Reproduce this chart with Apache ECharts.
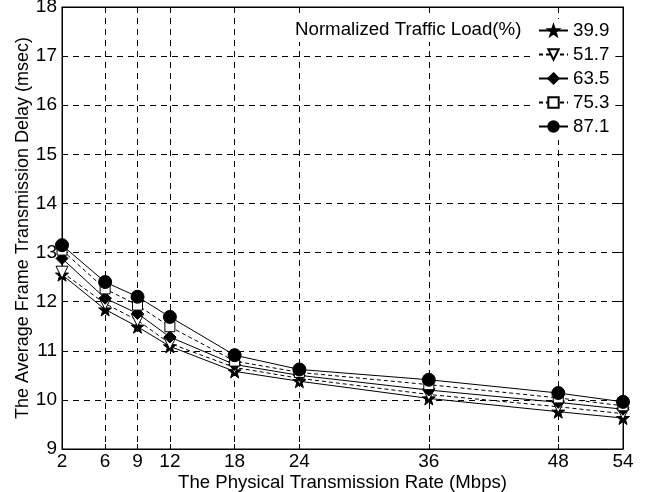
<!DOCTYPE html>
<html>
<head>
<meta charset="utf-8">
<script src="https://cdn.jsdelivr.net/npm/echarts@6/dist/echarts.min.js"></script>
<style>html,body{margin:0;padding:0;background:#fff;}#c{width:647px;height:492px;}</style>
</head>
<body>
<div id="c"></div>
<script>
const rates = [2, 6, 9, 12, 18, 24, 36, 48, 54];
const loadNames = ['39.9', '51.7', '63.5', '75.3', '87.1'];
const d39 = [12.55, 11.84, 11.49, 11.09, 10.58, 10.38, 10.03, 9.76, 9.63];
const d51 = [12.60, 11.96, 11.62, 11.15, 10.66, 10.44, 10.11, 9.86, 9.72];
const d63 = [12.88, 12.07, 11.76, 11.28, 10.72, 10.50, 10.20, 9.95, 9.81];
const d75 = [13.05, 12.26, 11.93, 11.49, 10.79, 10.56, 10.31, 10.04, 9.88];
const d87 = [13.15, 12.40, 12.10, 11.69, 10.91, 10.62, 10.41, 10.14, 9.96];

const STAR = 'path://M0,-10 L2.35,-3.24 L9.51,-3.09 L3.8,1.24 L5.88,8.09 L0,4 L-5.88,8.09 L-3.8,1.24 L-9.51,-3.09 L-2.35,-3.24 Z';
const FONT = '"Liberation Sans", Arial, sans-serif';

function pairs(arr) { return rates.map((x, i) => [x, arr[i]]); }

const styles = [
  { data: d39, symbol: STAR, size: 13, fill: '#000', dash: 'solid', rot: 0 },
  { data: d51, symbol: 'triangle', size: 12, fill: '#fff', dash: [4, 3], rot: 180 },
  { data: d63, symbol: 'diamond', size: 12, fill: '#000', dash: 'solid', rot: 0 },
  { data: d75, symbol: 'rect', size: 10, fill: '#fff', dash: [4, 3], rot: 0 },
  { data: d87, symbol: 'circle', size: 13, fill: '#000', dash: 'solid', rot: 0 }
];

const series = styles.map((s, i) => ({
  name: loadNames[i],
  type: 'line',
  data: pairs(s.data),
  symbol: s.symbol,
  symbolSize: s.size,
  symbolRotate: s.rot,
  showAllSymbol: true,
  lineStyle: { color: '#000', width: 1, type: s.dash },
  itemStyle: { color: s.fill, borderColor: '#000', borderWidth: 1 },
  emphasis: { disabled: true },
  animation: false,
  z: 3 + i
}));

const grid = { left: 62, right: 24, top: 7, bottom: 43, containLabel: false, outerBoundsMode: 'none', show: true, borderColor: '#000', borderWidth: 1, backgroundColor: 'transparent' };
const dashLine = { show: true, lineStyle: { color: '#000', width: 1, type: [6, 5] } };

const chart = echarts.init(document.getElementById('c'), null, { renderer: 'canvas' });
chart.setOption({
  animation: false,
  backgroundColor: '#fff',
  textStyle: { fontFamily: FONT },
  grid: grid,
  title: {
    text: 'Normalized Traffic Load(%)',
    left: 292, top: 18,
    padding: [2, 3, 2, 3],
    backgroundColor: '#fff',
    textStyle: { fontFamily: FONT, fontSize: 18.7, lineHeight: 20, fontWeight: 'normal', color: '#000' }
  },
  legend: {
    orient: 'vertical',
    left: 531, top: 19,
    padding: [2, 6, 4, 7],
    itemWidth: 29, itemHeight: 13, itemGap: 5,
    backgroundColor: '#fff',
    textStyle: { fontFamily: FONT, fontSize: 18.7, lineHeight: 19, color: '#000' },
    data: loadNames
  },
  xAxis: [
    {
      type: 'value', min: 2, max: 54, position: 'bottom',
      name: 'The Physical Transmission Rate (Mbps)', nameLocation: 'middle', nameGap: 24,
      nameMoveOverlap: false,
      nameTextStyle: { fontFamily: FONT, fontSize: 18.6, color: '#000' },
      axisLine: { show: true, lineStyle: { color: '#000', width: 1 } },
      axisTick: { show: true, inside: true, length: 5, customValues: rates, lineStyle: { color: '#000' } },
      axisLabel: { customValues: rates, fontFamily: FONT, fontSize: 19, color: '#000', margin: 3 },
      splitLine: dashLine
    },
    {
      type: 'value', min: 2, max: 54, position: 'top',
      axisLine: { show: true, lineStyle: { color: '#000', width: 1 } },
      axisTick: { show: true, inside: true, length: 5, customValues: rates, lineStyle: { color: '#000' } },
      axisLabel: { show: false },
      splitLine: { show: false }
    }
  ],
  yAxis: [
    {
      type: 'value', min: 9, max: 18, interval: 1, position: 'left',
      name: 'The Average Frame Transmission Delay (msec)', nameLocation: 'middle', nameGap: 30,
      nameMoveOverlap: false,
      nameTextStyle: { fontFamily: FONT, fontSize: 18, color: '#000' },
      axisLine: { show: true, lineStyle: { color: '#000', width: 1 } },
      axisTick: { show: true, inside: true, length: 5, lineStyle: { color: '#000' } },
      axisLabel: { fontFamily: FONT, fontSize: 19, color: '#000', margin: 5 },
      splitLine: dashLine
    },
    {
      type: 'value', min: 9, max: 18, interval: 1, position: 'right',
      axisLine: { show: true, lineStyle: { color: '#000', width: 1 } },
      axisTick: { show: true, inside: true, length: 5, lineStyle: { color: '#000' } },
      axisLabel: { show: false },
      splitLine: { show: false }
    }
  ],
  series: series
});
</script>
</body>
</html>
